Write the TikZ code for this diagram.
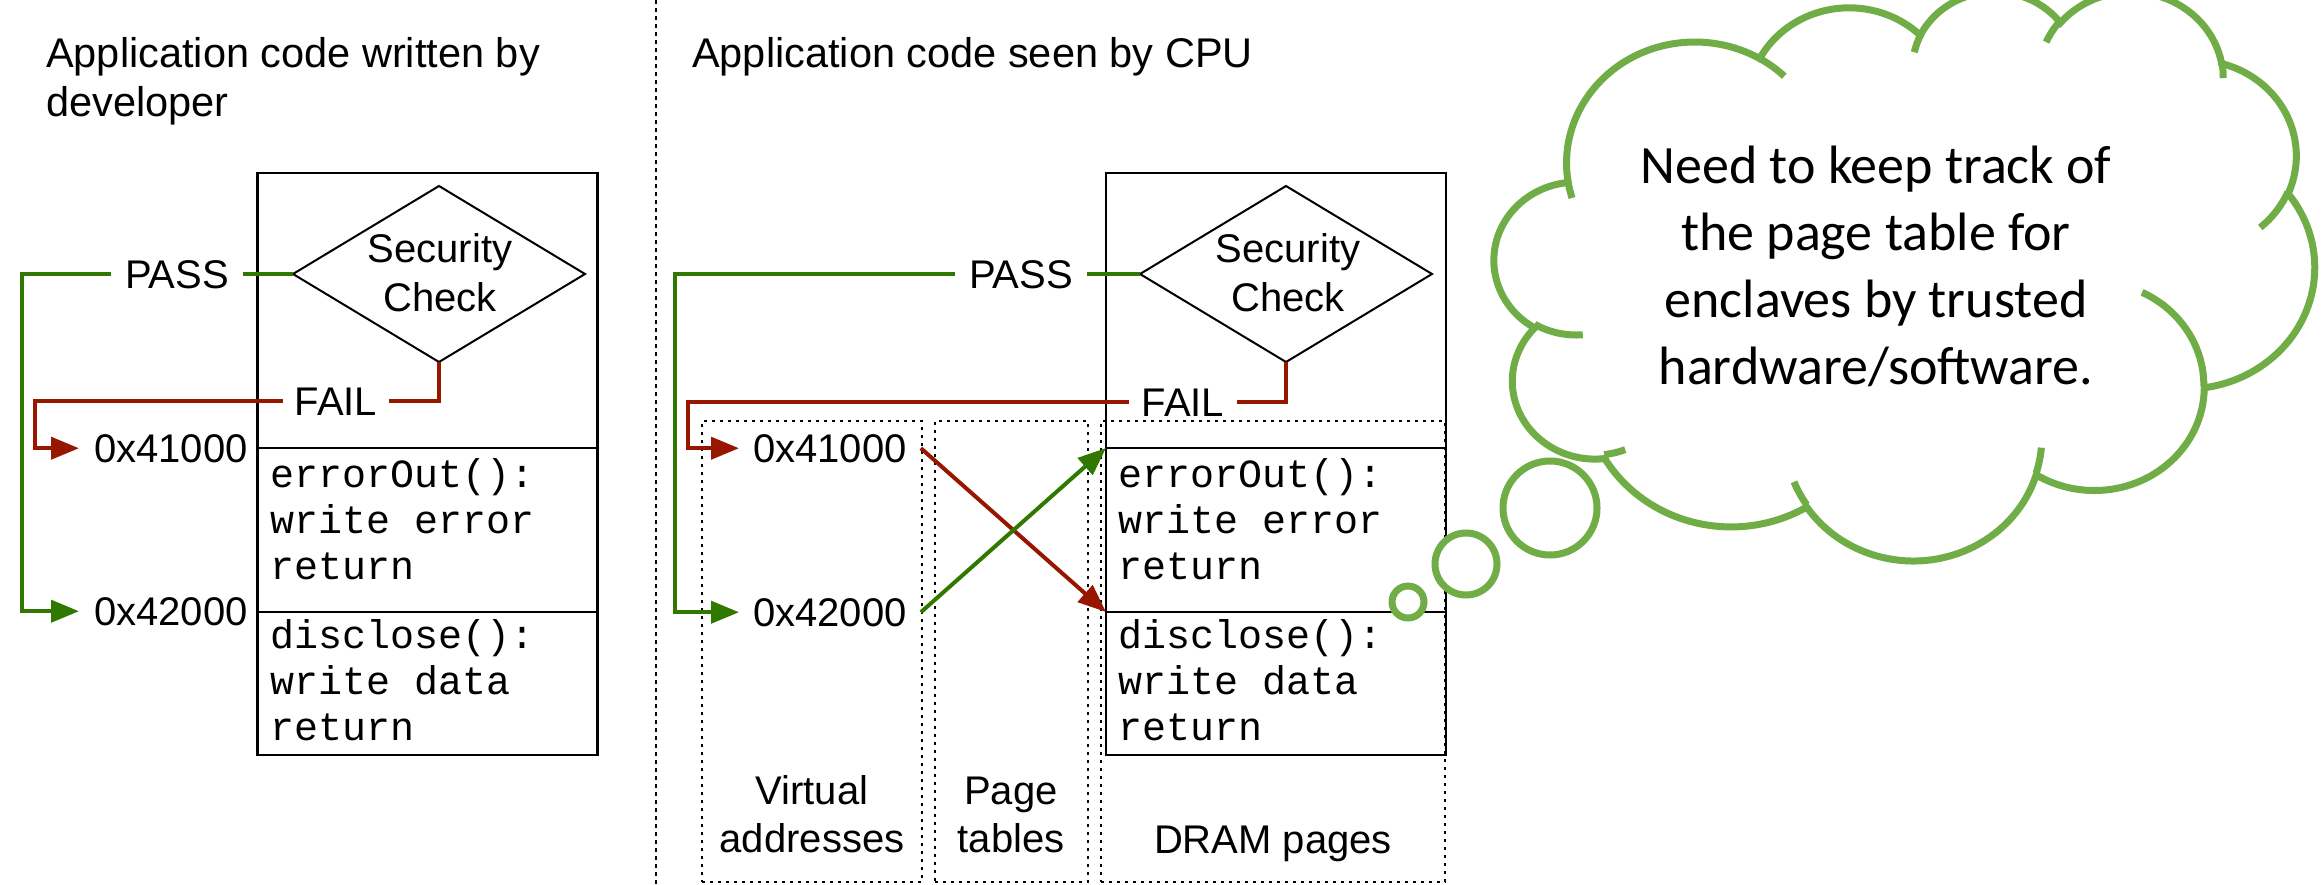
\documentclass[tikz,border=0pt]{standalone}
\usepackage{fontspec}
\setmainfont{Liberation Sans}
\setmonofont{Liberation Mono}
\newfontfamily\cloudfont{Carlito}
\usetikzlibrary{arrows.meta,shapes.geometric}
\definecolor{passgreen}{RGB}{48,120,0}
\definecolor{failred}{RGB}{150,22,0}
\definecolor{cloudgreen}{RGB}{112,173,71}
% one arc of the cloud outline: name, x radius, y radius, start angle, sweep (visual angles)
\newcommand\defarc[5]{%
  \pgfmathsetmacro\cts{atan2((#2)*sin(#4),(#3)*cos(#4))}%
  \pgfmathsetmacro\cte{atan2((#2)*sin((#4)+(#5)),(#3)*cos((#4)+(#5)))}%
  \pgfmathsetmacro\ctd{\cte-\cts}%
  \pgfmathsetmacro\ctd{ifthenelse(\ctd<0,\ctd+360,\ctd)}%
  \pgfmathsetmacro\ctsn{-1*(\cts)}%
  \pgfmathsetmacro\ctdn{-1*(\ctd)}%
  \pgfmathsetmacro\ctrx{(#2)*1.9}%
  \pgfmathsetmacro\ctry{(#3)*1.3167}%
  \expandafter\xdef\csname cloudarc#1\endcsname{arc[start angle=\ctsn, delta angle=\ctdn, x radius=\ctrx pt, y radius=\ctry pt]}%
}
\begin{document}
\begin{tikzpicture}[x=1pt,y=-1pt,
  lab/.style={font=\fontsize{40}{48.5}\selectfont, inner sep=0pt},
  ttl/.style={font=\fontsize{41.5}{49}\selectfont, inner sep=0pt, anchor=base west},
  addr/.style={font=\fontsize{40}{48}\selectfont, inner ysep=0pt, anchor=base},
  code/.style={font=\ttfamily\fontsize{40}{46}\selectfont, inner sep=0pt, anchor=base west},
  sect/.style={draw, line width=2.2pt, minimum width=340pt, inner sep=0pt, outer sep=0pt},
  chk/.style={draw, diamond, line width=2pt, minimum width=292pt, minimum height=176pt, inner sep=0pt, outer sep=0pt},
  gline/.style={draw=passgreen, line width=4pt},
  rline/.style={draw=failred, line width=4pt},
  headed/.style={-{Triangle[length=28pt,width=22pt]}},
  col/.style={draw, dash pattern=on 3pt off 5pt, line width=2pt, inner sep=0pt, outer sep=0pt},
  divider/.style={dash pattern=on 4pt off 4pt, line width=2pt},
  bubble/.style={draw=cloudgreen, line width=7pt, fill=white},
  cloudtxt/.style={font=\cloudfont\fontsize{54}{67}\selectfont, inner sep=0pt, anchor=base}
]
\useasboundingbox (0,0) rectangle (2323,885);
\clip (0,0) rectangle (2323,885);

% titles and divider
\node[ttl] (t1) at (46,68) {\vtop{\hbox{Application code written by}\hbox{developer}}};
\node[ttl] (t2) at (692,68) {Application code seen by CPU};
\coordinate (dvT) at (656,0);
\coordinate (dvB) at (656,885);
\draw[divider] (dvT) -- (dvB);

% ---------- left: code written by developer ----------
\node[sect, minimum height=275pt] (Ltop) at (427.5,310.5) {};
\node[sect, minimum height=164pt] (Lerr) at (427.5,530) {};
\node[sect, minimum height=143pt] (Ldis) at (427.5,683.5) {};
\node[chk] (dL) at (439,274) {};
\node[lab, anchor=base] (sL) at (440,263) {\vtop{\hsize=200pt\centering Security\\Check\par}};
\node[code] (eL) at (270,487) {\vtop{\hbox{errorOut():}\hbox{write error}\hbox{return}}};
\node[code] (xL) at (270,648) {\vtop{\hbox{disclose():}\hbox{write data}\hbox{return}}};

\node[addr, inner xsep=14pt] (pL) at (177,288) {PASS};
\node[addr, inner xsep=12pt] (fL) at (336,415) {FAIL};
\node[addr, inner xsep=15pt, anchor=base west] (a1L) at (79,462) {0x41000};
\node[addr, inner xsep=15pt, anchor=base west] (a2L) at (79,625) {0x42000};

\coordinate (gcL) at (22,274);
\coordinate (rcL) at (35,401);
\draw[gline] (dL.west) -- (pL.east |- dL.west);
\draw[gline, headed] (pL.west |- dL.west) -- (gcL) |- (a2L.west);
\draw[rline] (dL.south) |- (fL.east);
\draw[rline, headed] (fL.west) -- (rcL |- fL.west) |- (a1L.west);

% ---------- right: code seen by CPU ----------
\node[col, minimum width=220pt, minimum height=461pt] (cVA) at (812,651.5) {};
\node[col, minimum width=153pt, minimum height=461pt] (cPT) at (1011.5,651.5) {};
\node[col, minimum width=344pt, minimum height=461pt] (cDR) at (1273,651.5) {};
\node[lab, anchor=base] (lVA) at (812,804) {\vtop{\hsize=300pt\centering Virtual\\addresses\par}};
\node[lab, anchor=base] (lPT) at (1011,804) {\vtop{\hsize=200pt\centering Page\\tables\par}};
\node[lab, anchor=base] (lDR) at (1273,853) {DRAM pages};

\node[sect, minimum height=275pt] (Rtop) at (1276,310.5) {};
\node[sect, minimum height=164pt] (Rerr) at (1276,530) {};
\node[sect, minimum height=143pt] (Rdis) at (1276,683.5) {};
\node[chk] (dR) at (1286,274) {};
\node[lab, anchor=base] (sR) at (1288,263) {\vtop{\hsize=200pt\centering Security\\Check\par}};
\node[code] (eR) at (1118,487) {\vtop{\hbox{errorOut():}\hbox{write error}\hbox{return}}};
\node[code] (xR) at (1118,648) {\vtop{\hbox{disclose():}\hbox{write data}\hbox{return}}};

\node[addr, inner xsep=14pt] (pR) at (1021,288) {PASS};
\node[addr, inner xsep=13pt] (fR) at (1183,416) {FAIL};
\node[addr, inner xsep=14pt, anchor=base west] (a1R) at (739,462) {0x41000};
\node[addr, inner xsep=14pt, anchor=base west] (a2R) at (739,626) {0x42000};

\coordinate (gcR) at (674.5,274);
\coordinate (rcR) at (688,401);
\draw[gline] (dR.west) -- (pR.east |- dR.west);
\draw[gline, headed] (pR.west |- dR.west) -- (gcR) |- (a2R.west);
\draw[rline] (dR.south) |- (fR.east);
\draw[rline, headed] (fR.west) -- (rcR |- fR.west) |- (a1R.west);
\draw[rline, headed] (a1R.east) -- (Rdis.north west);
\draw[gline, headed] (a2R.east) -- (Rerr.north west);

% ---------- thought cloud ----------
\node[bubble, circle, minimum size=32pt, inner sep=0pt] (b1) at (1408,602) {};
\node[bubble, circle, minimum size=62pt, inner sep=0pt] (b2) at (1466,564) {};
\node[bubble, circle, minimum size=94pt, inner sep=0pt] (b3) at (1550,508) {};

\defarc{A}{67.53}{91.90}{-190.4875}{123.7805}
\defarc{B}{53.33}{72.67}{-144.1024}{89.9452}
\defarc{C}{43.65}{59.45}{-145.8079}{99.7230}
\defarc{D}{48.57}{65.95}{-130.9861}{117.2417}
\defarc{E}{53.33}{72.73}{-78.7089}{109.0269}
\defarc{F}{67.75}{92.20}{-46.2673}{130.2690}
\defarc{G}{57.85}{78.67}{0.6250}{114.0333}
\defarc{H}{67.52}{92.15}{22.4516}{115.1726}
\defarc{I}{77.20}{105.43}{66.2426}{74.9347}
\defarc{J}{43.60}{59.18}{-274.9421}{146.7471}
\defarc{K}{43.45}{59.45}{-246.8285}{152.5189}
\defarc{M}{43.45}{59.45}{86.7420}{26.4295}
\defarc{N}{43.60}{59.18}{73.6105}{11.4475}
\defarc{O}{67.52}{92.15}{137.6242}{14.0811}
\defarc{P}{67.52}{92.15}{6.4533}{15.9984}
\defarc{Q}{57.85}{78.67}{-70.2924}{70.9174}
\defarc{R}{53.33}{72.73}{30.3180}{27.7515}
\defarc{S}{48.57}{65.95}{-13.7443}{14.8589}
\defarc{T}{48.57}{65.95}{-149.1815}{18.1954}
\defarc{U}{43.65}{59.45}{-163.4943}{17.6864}
\defarc{V}{67.53}{91.90}{-66.7070}{12.3194}
\defarc{W}{67.53}{91.90}{157.6544}{11.8582}

\begin{scope}[shift={(1493.6,-9.9)}, x=1.9pt, y=-1.3167pt]
  \draw[bubble] (39.00,143.70) \cloudarcA \cloudarcB \cloudarcC \cloudarcD \cloudarcE \cloudarcF \cloudarcG \cloudarcH \cloudarcI \cloudarcJ \cloudarcK -- cycle;
  \draw[bubble, fill=none] (46.93,261.77) \cloudarcM;
  \draw[bubble, fill=none] (69.28,348.99) \cloudarcN;
  \draw[bubble, fill=none] (164.78,390.90) \cloudarcO;
  \draw[bubble, fill=none] (288.27,347.51) \cloudarcP;
  \draw[bubble, fill=none] (341.29,229.54) \cloudarcQ;
  \draw[bubble, fill=none] (417.98,153.54) \cloudarcR;
  \draw[bubble, fill=none] (383.24,54.26) \cloudarcS;
  \draw[bubble, fill=none] (290.78,39.52) \cloudarcT;
  \draw[bubble, fill=none] (221.41,47.20) \cloudarcU;
  \draw[bubble, fill=none] (140.00,51.92) \cloudarcV;
  \draw[bubble, fill=none] (41.27,157.89) \cloudarcW;
\end{scope}
\node[cloudtxt] (ct) at (1876,184) {\vtop{\hsize=700pt\centering Need to keep track of\\the page table for\\enclaves by trusted\\hardware/software.\par}};
\end{tikzpicture}
\end{document}
